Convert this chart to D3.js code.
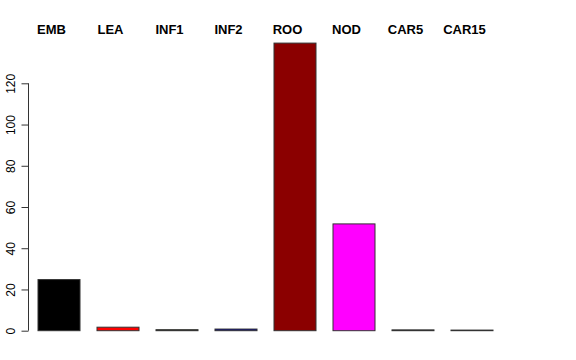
<!DOCTYPE html>
<html>
<head>
<meta charset="utf-8">
<script src="https://cdn.jsdelivr.net/npm/d3@7"></script>
<style>
body { margin: 0; background: #fff; }
svg { display: block; font-family: "Liberation Sans", Arial, sans-serif; }
</style>
</head>
<body>
<svg id="chart" width="576" height="360"></svg>
<script>
// tissues and their values
const tissues = ["EMB", "LEA", "INF1", "INF2", "ROO", "NOD", "CAR5", "CAR15"];
const values = [24.8, 1.7, 0.5, 0.8, 139.5, 51.8, 0.4, 0.3];
const colors = ["#000000", "#ff0000", "#556b2f", "#00008b", "#8b0000", "#ff00ff", "#111111", "#2f4f4f"];
const yTicks = [0, 20, 40, 60, 80, 100, 120];

const data = tissues.map((t, i) => ({ name: t, value: values[i], color: colors[i] }));

const svg = d3.select("#chart");

const xScale = d3.scaleBand()
  .domain(tissues)
  .range([26.2, 504.8])
  .paddingInner(0.288)
  .paddingOuter(0.2);

const yScale = d3.scaleLinear()
  .domain([0, 120])
  .range([330.7, 83.3]);

svg.selectAll(".bar")
  .data(data)
  .join("rect")
  .attr("class", "bar")
  .attr("x", d => xScale(d.name))
  .attr("width", xScale.bandwidth())
  .attr("y", d => yScale(d.value))
  .attr("height", d => yScale(0) - yScale(d.value))
  .attr("fill", d => d.color)
  .attr("stroke", "#333")
  .attr("stroke-width", 1);

// y axis, R style: rotated tick labels
const yAxis = d3.axisLeft(yScale).tickValues(yTicks).tickSize(7).tickPadding(4);
const gy = svg.append("g")
  .attr("transform", "translate(28.5,0)")
  .call(yAxis);
gy.select(".domain").attr("d", `M0,${yScale(0)}V${yScale(120)}`).attr("stroke", "#333");
gy.selectAll(".tick line").attr("stroke", "#333");
gy.selectAll(".tick text")
  .attr("font-size", 12)
  .attr("font-family", "Liberation Sans, Arial, sans-serif")
  .attr("fill", "#000")
  .attr("text-anchor", "middle")
  .attr("x", 0)
  .attr("dy", 0)
  .attr("transform", "translate(-14,0) rotate(-90)");

// tissue names on top
svg.selectAll(".lab")
  .data(data)
  .join("text")
  .attr("class", "lab")
  .attr("x", d => xScale(d.name) + xScale.bandwidth() / 2 - 7.5)
  .attr("y", 34)
  .attr("text-anchor", "middle")
  .attr("font-size", 13)
  .attr("font-weight", "bold")
  .text(d => d.name);
</script>
</body>
</html>
